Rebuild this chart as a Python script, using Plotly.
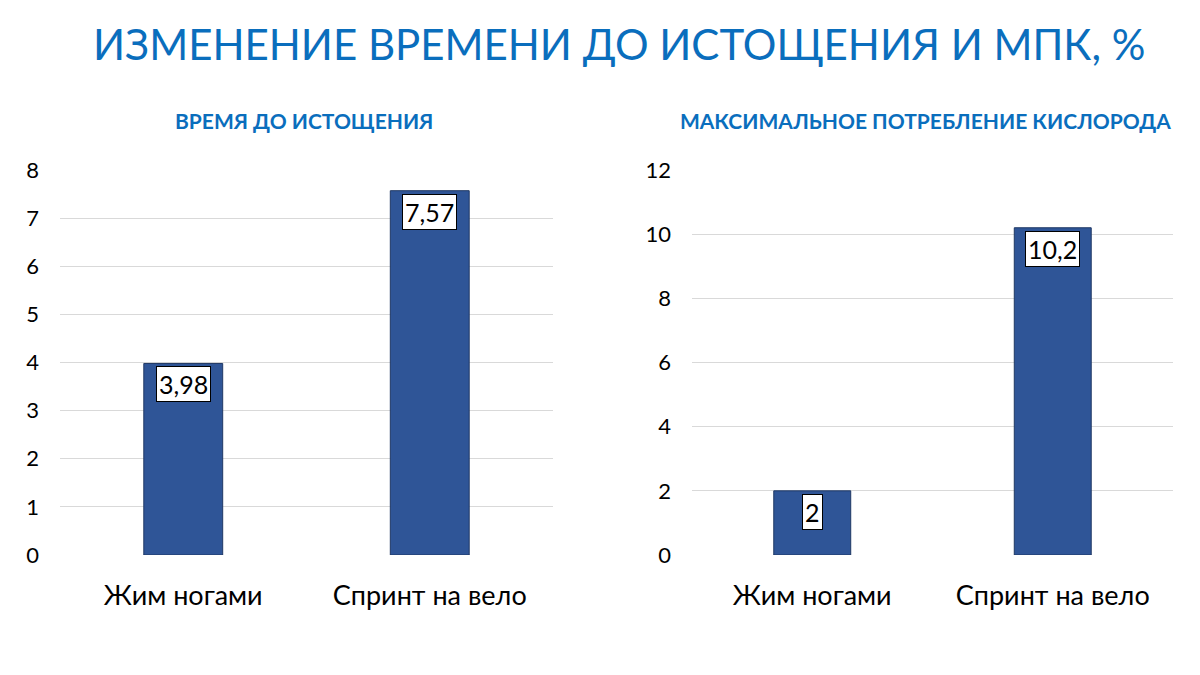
import plotly.graph_objects as go
from plotly.subplots import make_subplots

categories = ["Жим ногами", "Спринт на вело"]
time_values = [3.98, 7.57]
vo2_values = [2, 10.2]
time_labels = ["3,98", "7,57"]
vo2_labels = ["2", "10,2"]
left_ticks = [0, 1, 2, 3, 4, 5, 6, 7, 8]
right_ticks = [0, 2, 4, 6, 8, 10, 12]

title_text = "ИЗМЕНЕНИЕ ВРЕМЕНИ ДО ИСТОЩЕНИЯ И МПК, %"
sub_left = "ВРЕМЯ ДО ИСТОЩЕНИЯ"
sub_right = "МАКСИМАЛЬНОЕ ПОТРЕБЛЕНИЕ КИСЛОРОДА"

FONT = "Lato"
BLUE = "#0A6EBD"
BAR = "#2F5597"
BAR_LINE = "#1F3864"

fig = make_subplots(rows=1, cols=2)

fig.add_trace(go.Bar(x=categories, y=time_values, marker=dict(color=BAR, line=dict(color=BAR_LINE, width=1)),
                     width=0.32, hoverinfo="skip"), row=1, col=1)
fig.add_trace(go.Bar(x=categories, y=vo2_values, marker=dict(color=BAR, line=dict(color=BAR_LINE, width=1)),
                     width=0.32, hoverinfo="skip"), row=1, col=2)

for xref, yref, vals, labs in [("x", "y", time_values, time_labels), ("x2", "y2", vo2_values, vo2_labels)]:
    for c, v, t in zip(categories, vals, labs):
        fig.add_annotation(x=c, y=v, xref=xref, yref=yref, text=t, showarrow=False,
                           yanchor="top", yshift=-3, bgcolor="white", bordercolor="black",
                           borderwidth=1, borderpad=2, font=dict(family=FONT, size=25, color="black"))

fig.update_layout(
    width=1200, height=675, margin=dict(l=0, r=0, t=0, b=0, autoexpand=False),
    paper_bgcolor="white", plot_bgcolor="white", showlegend=False,
    font=dict(family=FONT, color="black"),
    title=dict(text=title_text, x=0.516, xanchor="center", y=0.933, yanchor="middle",
               font=dict(family=FONT, size=42, color=BLUE)),
)

fig.add_annotation(text="<b>" + sub_left + "</b>", x=304 / 1200, y=1 - 120 / 675, xref="paper", yref="paper",
                   showarrow=False, xanchor="center", yanchor="middle", font=dict(family=FONT, size=21, color=BLUE))
fig.add_annotation(text="<b>" + sub_right + "</b>", x=925 / 1200, y=1 - 120 / 675, xref="paper", yref="paper",
                   showarrow=False, xanchor="center", yanchor="middle", font=dict(family=FONT, size=21, color=BLUE))

xcommon = dict(showgrid=False, showline=False, zeroline=False, ticks="", automargin=False,
               tickfont=dict(family=FONT, size=27, color="black"), ticklabelstandoff=22)
fig.update_xaxes(domain=[60 / 1200, 553 / 1200], row=1, col=1, **xcommon)
fig.update_xaxes(domain=[692 / 1200, 1173 / 1200], row=1, col=2, **xcommon)

ycommon = dict(showgrid=True, gridcolor="#D9D9D9", gridwidth=1, showline=False, zeroline=False, ticks="",
               automargin=False, tickfont=dict(family=FONT, size=22, color="black"), ticklabelstandoff=20,
               domain=[120 / 675, 505 / 675])
fig.update_yaxes(range=[0, 8], tickvals=left_ticks, row=1, col=1, **ycommon)
fig.update_yaxes(range=[0, 12], tickvals=right_ticks, row=1, col=2, **ycommon)

fig.write_html("out.html")
